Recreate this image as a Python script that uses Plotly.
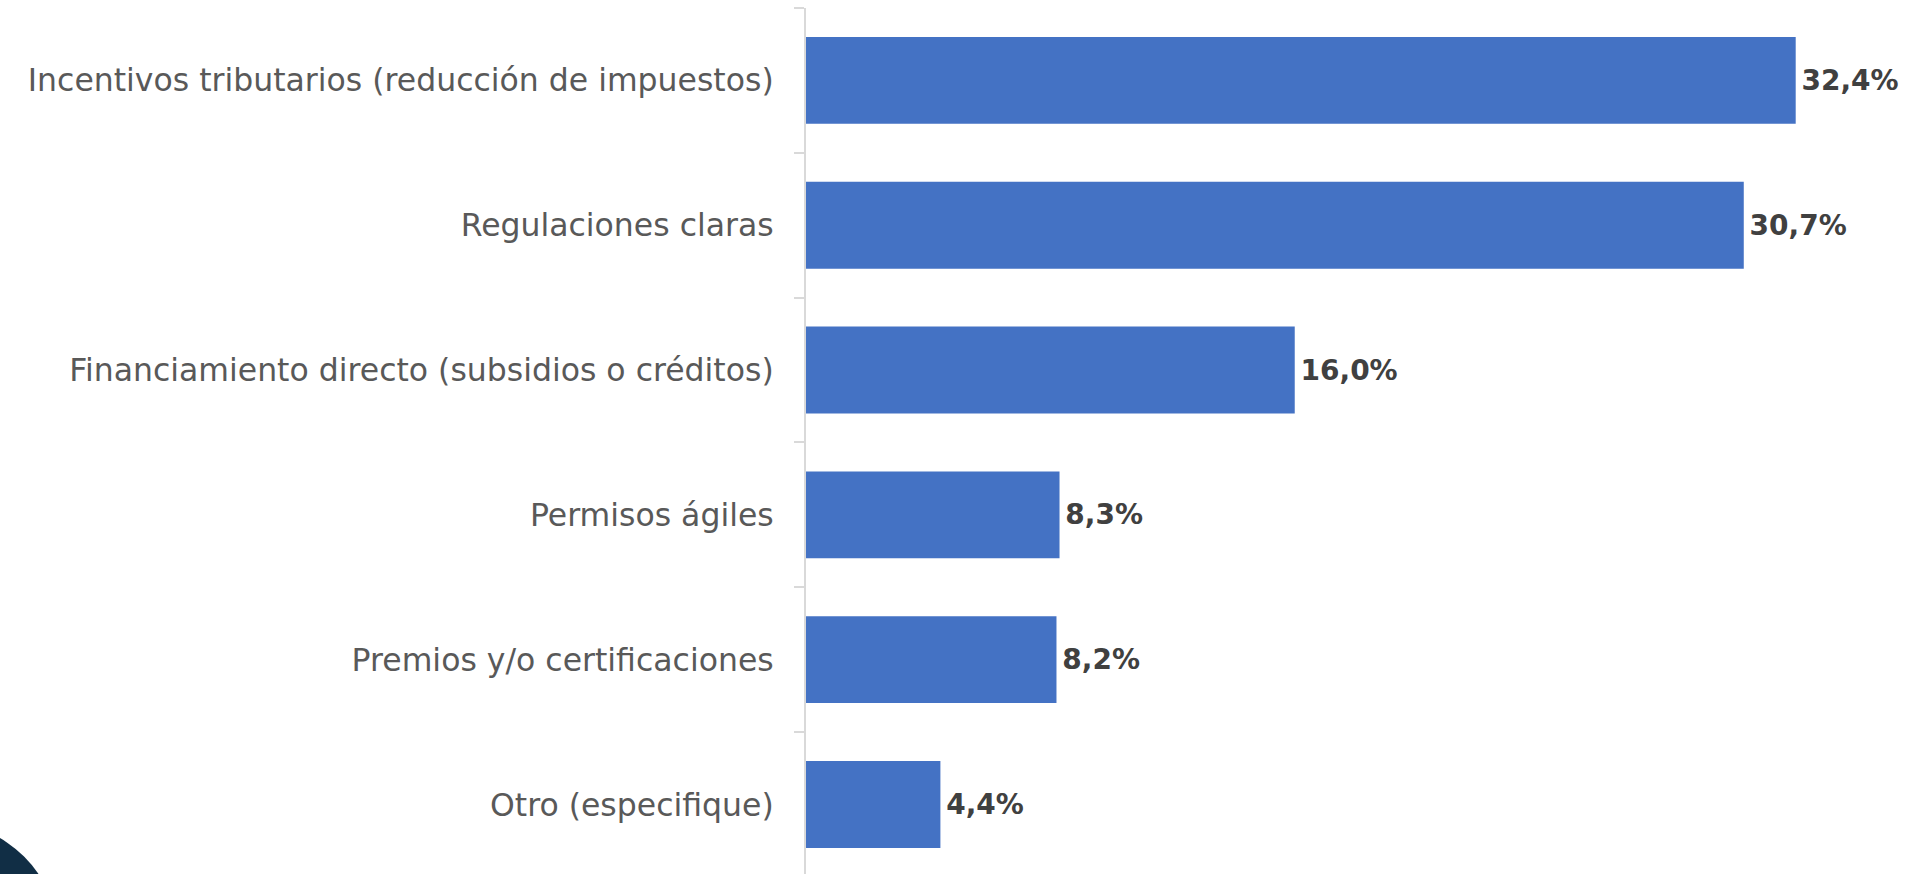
import plotly.graph_objects as go

categories = [
    "Incentivos tributarios (reducción de impuestos)",
    "Regulaciones claras",
    "Financiamiento directo (subsidios o créditos)",
    "Permisos ágiles",
    "Premios y/o certificaciones",
    "Otro (especifique)",
]
values = [32.4, 30.7, 16.0, 8.3, 8.2, 4.4]
labels = ["32,4%", "30,7%", "16,0%", "8,3%", "8,2%", "4,4%"]

W, H = 1913, 874
L, T = 806, 8
x_max = 36.24

cats_rev = categories[::-1]
vals_rev = values[::-1]
labs_rev = ["\u200a" + s for s in labels[::-1]]

fig = go.Figure(go.Bar(
    y=cats_rev, x=vals_rev, orientation="h",
    marker=dict(color="#4472C4", line=dict(width=0)),
    text=labs_rev, textposition="outside", cliponaxis=False,
    textfont=dict(family="DejaVu Sans", size=28, color="#404040", weight="bold"),
    hoverinfo="skip",
))

# decorative circle at bottom-left (paper coordinates of the plot area)
pw = W - L
ph = H - T
def px_to_paper_x(px):
    return (px - L) / pw
def px_to_paper_y(py):
    return (H - py) / ph

cx, cy, r = -57, 938, 115
fig.add_shape(type="circle", xref="paper", yref="paper",
              x0=px_to_paper_x(cx - r), x1=px_to_paper_x(cx + r),
              y0=px_to_paper_y(cy + r), y1=px_to_paper_y(cy - r),
              fillcolor="#112E45", line=dict(width=0), layer="above")

fig.update_layout(
    width=W, height=H,
    margin=dict(l=L, r=0, t=T, b=0, pad=0),
    paper_bgcolor="white", plot_bgcolor="white",
    bargap=0.4, showlegend=False,
    xaxis=dict(visible=False, range=[0, x_max], fixedrange=True),
    yaxis=dict(
        type="category", categoryorder="array", categoryarray=cats_rev,
        range=[-0.48, 5.5],
        showline=True, linecolor="#D9D9D9", linewidth=2,
        ticks="outside", tickson="boundaries", ticklen=10,
        tickcolor="#D9D9D9", tickwidth=2,
        ticklabelstandoff=24,
        tickfont=dict(family="DejaVu Sans", size=31.5, color="#595959"),
        showgrid=False, zeroline=False,
    ),
)

fig.write_html("out.html", config={"displayModeBar": False},
               post_script="document.body.style.margin='0';document.body.style.overflow='hidden';")
